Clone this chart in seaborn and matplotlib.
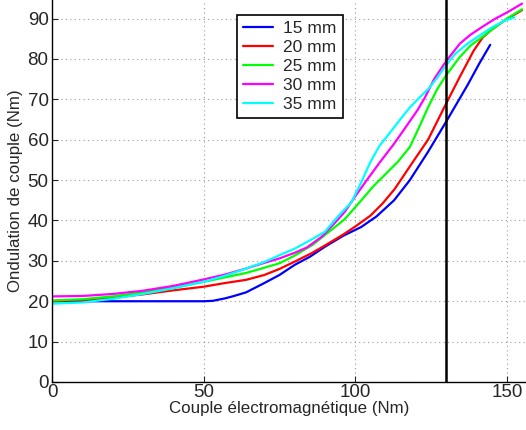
import pandas as pd
import seaborn as sns
import matplotlib.pyplot as plt

# Data (x: Nm, y: Nm)
x_15 = [0, 20, 40, 50, 53, 57, 60, 64, 70, 75, 80, 85, 90, 96, 102, 107, 112.8, 118, 124, 130, 137, 141, 144.5]
y_15 = [20, 20, 20, 20, 20.1, 20.7, 21.3, 22.2, 24.5, 26.5, 29, 31, 33.5, 36.2, 38.4, 41, 45, 50, 57, 64.5, 73.5, 79, 83.5]

x_20 = [0, 10, 20, 30, 40, 50, 57, 64, 70, 75, 80, 85.6, 90, 96, 100, 105, 109, 113, 119, 124, 130, 134.5, 139, 142, 145, 149, 155]
y_20 = [20, 20.3, 20.9, 21.7, 22.7, 23.6, 24.5, 25.3, 26.5, 28, 29.8, 31.9, 33.8, 36.5, 38.5, 41.2, 44.2, 47.8, 54.5, 60, 69, 75.6, 82, 85.3, 87.3, 89.4, 92.1]

x_25 = [0, 10, 20, 30, 40, 50, 57, 64, 70, 75, 80, 86, 91, 96.5, 102, 106, 110, 114, 118, 121, 124, 127, 130, 134.5, 138, 142, 146, 150, 155]
y_25 = [20.2, 20.5, 21.2, 22.2, 23.4, 24.8, 25.9, 27, 28.3, 29.4, 31.3, 34, 37, 40.3, 45, 48.5, 51.5, 54.5, 58.2, 63, 68, 72.5, 76, 80.5, 83.3, 85.5, 87.8, 90, 92.3]

x_30 = [0, 10, 20, 30, 40, 50, 57, 64, 70, 75, 80, 84, 89, 94, 96.6, 100, 104, 108, 112.8, 117, 120.5, 123, 126, 130, 134.5, 138, 142, 146, 150, 155]
y_30 = [21.2, 21.3, 21.8, 22.6, 23.8, 25.4, 26.6, 28.1, 29.5, 30.6, 32, 33.3, 36, 40, 42.2, 46, 50.2, 54.3, 59, 63.5, 67.3, 70.5, 75, 79.5, 83.8, 86, 88, 89.9, 91.5, 93.7]

x_35 = [0, 10, 20, 30, 40, 50, 57, 64, 70, 75, 80, 85.6, 90, 94.3, 98.7, 102, 105, 108, 111.7, 115, 118, 121, 124, 127, 130, 133, 137, 141, 145, 149, 152.5]
y_35 = [19.4, 19.7, 20.6, 21.8, 23.2, 24.8, 26.3, 28.1, 29.7, 31.4, 33, 35.3, 37.2, 41, 44.5, 49.5, 54.5, 58.5, 62, 65.2, 68, 70.3, 72.5, 75.3, 78.5, 81.3, 83.8, 85.8, 87.8, 89.4, 90.3]

labels = ["15 mm", "20 mm", "25 mm", "30 mm", "35 mm"]
colors = ["#0000ff", "#ff0000", "#00ff00", "#ff00ff", "#00ffff"]
x_limit = 130

frames = []
for lab, xs, ys in zip(labels, [x_15, x_20, x_25, x_30, x_35], [y_15, y_20, y_25, y_30, y_35]):
    frames.append(pd.DataFrame({"x": xs, "y": ys, "serie": lab}))
df = pd.concat(frames, ignore_index=True)

sns.set_style("ticks")
plt.rcParams['font.family'] = ['Liberation Sans', 'DejaVu Sans']

fig = plt.figure(figsize=(5.26, 4.30), dpi=100)
ax = fig.add_axes([52 / 526, 48 / 430, 1 - 52 / 526, 382 / 430])

sns.lineplot(data=df, x="x", y="y", hue="serie", palette=dict(zip(labels, colors)),
             linewidth=1.6, ax=ax, sort=False, estimator=None)
ax.axvline(x_limit, color="black", linewidth=1.8)

ax.set_xlim(0, 156.3)
ax.set_ylim(0, 94.6)
ax.set_xticks([0, 50, 100, 150])
ax.set_yticks(range(0, 100, 10))
ax.tick_params(direction="in", labelsize=13.5, length=4)
ax.tick_params(axis="x", pad=1.5)
ax.tick_params(axis="y", pad=2.5)
ax.grid(True, linestyle=(0, (1, 3)), color="#999999", linewidth=0.8)
ax.spines["top"].set_visible(False)
ax.spines["right"].set_visible(False)
for s in ["left", "bottom"]:
    ax.spines[s].set_color("black")
    ax.spines[s].set_linewidth(1)

ax.set_xlabel("Couple électromagnétique (Nm)", fontsize=12.2, labelpad=0)
ax.set_ylabel("Ondulation de couple (Nm)", fontsize=12.2, labelpad=3)

leg = ax.legend(loc="upper left", bbox_to_anchor=(185 / 474, 1 - 15 / 382), borderaxespad=0,
                fontsize=12.5, frameon=True, fancybox=False, edgecolor="black", framealpha=1,
                handlelength=1.72, borderpad=0.35, labelspacing=0.22, handletextpad=0.6)
leg.get_frame().set_linewidth(1.2)
for line in leg.get_lines():
    line.set_linewidth(1.6)

fig.savefig("out.png", dpi=100)
